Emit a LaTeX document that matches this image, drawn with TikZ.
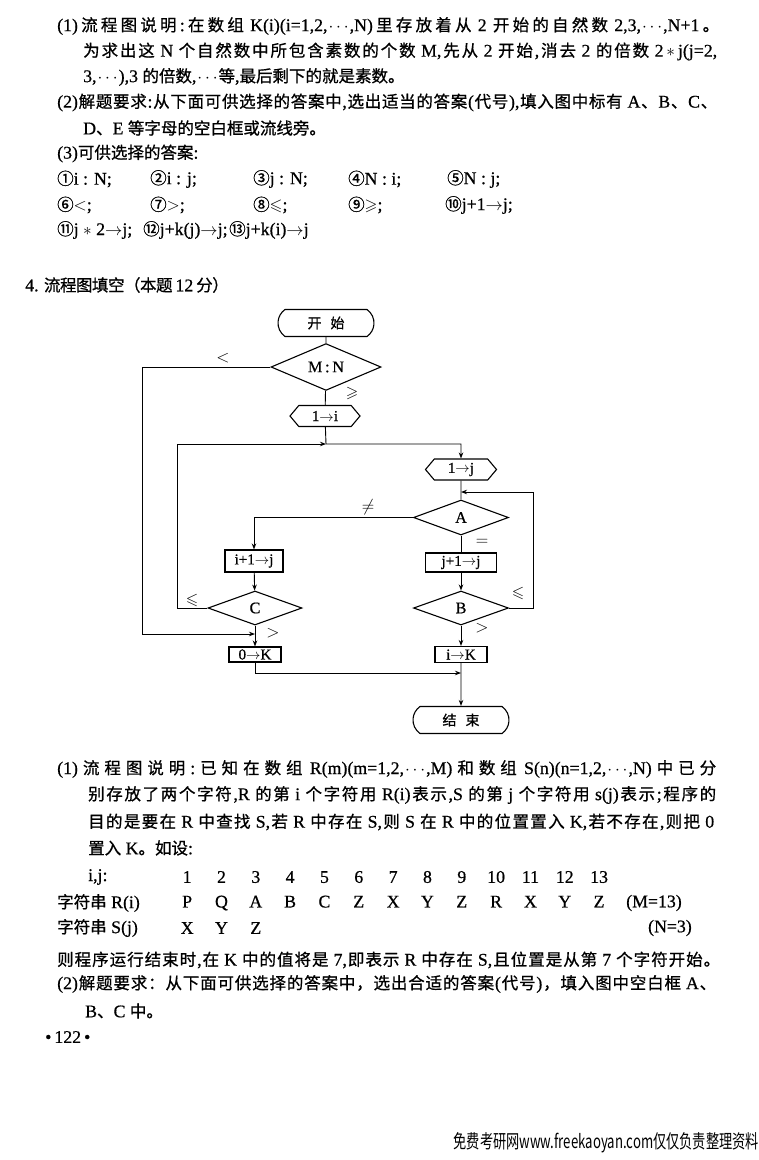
\documentclass[tikz,border=0pt]{standalone}
\usepackage{fontspec}
\usepackage{amssymb}
\usepackage{graphicx}
\setmainfont{Liberation Serif}[FakeBold=0.6,Scale=1.08]
\newfontfamily\cjk{Noto Sans CJK SC}[FakeBold=0.8]
\newfontfamily\cjkplain{Noto Sans CJK SC}
\usetikzlibrary{shapes.geometric,shapes.misc,shapes.symbols,arrows.meta,positioning}

\newXeTeXintercharclass\cjkclass
\newcount\cjkcount
\def\setcjkrange#1#2{\cjkcount=#1\relax
  \loop\XeTeXcharclass\cjkcount=\cjkclass\relax
  \advance\cjkcount by 1\relax\ifnum\cjkcount<#2\repeat}
\setcjkrange{"4E00}{"A000}
\setcjkrange{"3000}{"3040}
\setcjkrange{"FF00}{"FFF0}
\setcjkrange{"2460}{"2500}
\XeTeXinterchartokenstate=1
\XeTeXinterchartoks 0 \cjkclass = {\hskip0pt plus 4pt minus 0.5pt\cjk}
\XeTeXinterchartoks 4095 \cjkclass = {\cjk}
\XeTeXinterchartoks \cjkclass 0 = {\hskip0pt plus 4pt minus 0.5pt\normalfont}
\XeTeXinterchartoks \cjkclass 4095 = {\normalfont}
\XeTeXinterchartoks \cjkclass \cjkclass = {\hskip0pt plus 4pt minus 0.5pt}

\newcommand{\cell}[1]{\makebox[34.33pt]{#1}}
\newcommand{\dd}{\kern1pt$\cdots$\kern1pt}

\tikzset{
  txt/.style={anchor=west, inner sep=0pt, font=\fontsize{16.5}{19}\selectfont},
  terminal/.style={rounded rectangle, rounded rectangle arc length=110, draw, line width=1.1pt,
    minimum width=98pt, minimum height=27pt, inner sep=1pt, font=\fontsize{14}{16}\selectfont},
  decision/.style={diamond, draw, line width=1.1pt, inner sep=0pt, font=\fontsize{15}{17}\selectfont},
  prep/.style={signal, signal to=west and east, signal pointer angle=100, draw, line width=1.1pt,
    minimum width=71pt, minimum height=21pt, inner sep=1pt, font=\fontsize{14}{16}\selectfont},
  process/.style={rectangle, draw, line width=1.1pt, inner sep=1pt, font=\fontsize{14}{16}\selectfont},
  flow/.style={line width=0.9pt, -{Stealth[length=6pt,width=4.5pt]}},
  flowline/.style={line width=0.9pt},
  lbl/.style={inner sep=0pt, font=\fontsize{16}{18}\selectfont}
}

\begin{document}
\begin{tikzpicture}[x=1pt, y=-1pt]
\useasboundingbox (0,0) rectangle (759,1160);
\fill[white] (0,0) rectangle (759,1160);

\node[txt] (l1) at (57,26) {\hbox to 662pt{(1)流程图说明:在数组 K(i)(i=1,2,\dd,N)里存放着从 2 开始的自然数 2,3,\dd,N+1。}};
\node[txt] (l2) at (83,51.5) {\hbox to 634pt{为求出这 N 个自然数中所包含素数的个数 M,先从 2 开始,消去 2 的倍数 2$\,\ast\,$j(j=2,}};
\node[txt] (l3) at (83,77) {3,\dd),3 的倍数,\dd 等,最后剩下的就是素数。};
\node[txt] (l4) at (57,102.5) {\hbox to 660pt{(2)解题要求:从下面可供选择的答案中,选出适当的答案(代号),填入图中标有 A、B、C、}};
\node[txt] (l5) at (83,128) {D、E 等字母的空白框或流线旁。};
\node[txt] (l6) at (57,153.5) {(3)可供选择的答案:};
\node[txt] (o1) at (57,179) {①i : N;};
\node[txt] (o2) at (150,179) {②i : j;};
\node[txt] (o3) at (253,179) {③j : N;};
\node[txt] (o4) at (348,179) {④N : i;};
\node[txt] (o5) at (447,179) {⑤N : j;};
\node[txt] (o6) at (57,205) {⑥$<$;};
\node[txt] (o7) at (150,205) {⑦$>$;};
\node[txt] (o8) at (253,205) {⑧$\leqslant$;};
\node[txt] (o9) at (348,205) {⑨$\geqslant$;};
\node[txt] (o10) at (445,205) {⑩j+1$\to$j;};
\node[txt] (o11) at (57,230) {⑪j $\ast$ 2$\to$j;};
\node[txt] (o12) at (143,230) {⑫j+k(j)$\to$j;};
\node[txt] (o13) at (229,230) {⑬j+k(i)$\to$j};

\node[txt] (title) at (25,285) {\hbox to 198pt{4. 流程图填空（本题 12 分）}};

\node[terminal] (start) at (326,323) {开\hspace{9pt}始};
\node[decision, minimum width=110pt, minimum height=34pt] (mn) at (326,367) {M\,:\,N};
\node[prep, minimum width=70pt] (onei) at (325,416) {1$\to$i};
\node[prep] (onej) at (461,469.5) {1$\to$j};
\node[decision, minimum width=95pt, minimum height=35pt] (A) at (461,517.5) {A};
\node[process, minimum width=58pt, minimum height=22pt] (ip) at (254,561) {i+1$\to$j};
\node[process, minimum width=71pt, minimum height=19pt] (jp) at (461,562.5) {j+1$\to$j};
\node[decision, minimum width=94pt, minimum height=34pt] (C) at (255,608) {C};
\node[decision, minimum width=95pt, minimum height=34pt] (B) at (461,608) {B};
\node[process, minimum width=52pt, minimum height=15pt] (zeroK) at (255,654.5) {0$\to$K};
\node[process, minimum width=52pt, minimum height=16pt] (iK) at (461,654.5) {i$\to$K};
\node[terminal] (stop) at (461,720) {结\hspace{9pt}束};

\coordinate (jn) at (326,444);
\coordinate (ljn) at (177,444);
\coordinate (rc) at (533,492);
\coordinate (rjn) at (461,492);
\coordinate (lo) at (142,634);
\coordinate (lk) at (255,634);
\coordinate (ek) at (461,673);

\draw[flowline] (start) -- (mn);
\draw[flowline] (mn) -- (onei);
\draw[flow] (onei) -- (jn) -| (onej);
\draw[flowline] (onej) -- (A);
\draw[flow] (A.west) -| (ip);
\draw[flowline] (A) -- (jp);
\draw[flow] (jp) -- (B);
\draw[flow] (B.east) -| (rc) -- (rjn);
\draw[flow] (B) -- (iK);
\draw[flow] (ip) -- (C);
\draw[flow] (C.west) -| (ljn) -- (jn);
\draw[flow] (C) -- (zeroK);
\draw[flow] (mn.west) -| (lo) -- (lk);
\draw[flow] (zeroK) |- (ek);
\draw[flow] (iK) -- (stop);

\node[lbl] (ltm) at (223,358) {$<$};
\node[lbl] (geq) at (352,393) {$\geqslant$};
\node[lbl] (neq) at (368,507) {$\neq$};
\node[lbl] (eq) at (482,542) {$=$};
\node[lbl] (leqc) at (192,600) {$\leqslant$};
\node[lbl] (leqb) at (518,593) {$\leqslant$};
\node[lbl] (gtc) at (273,633) {$>$};
\node[lbl] (gtb) at (482,628) {$>$};

\node[txt] (m1) at (57,769) {\hbox to 659pt{(1)流程图说明:已知在数组 R(m)(m=1,2,\dd,M)和数组 S(n)(n=1,2,\dd,N)中已分}};
\node[txt] (m2) at (88,795) {\hbox to 628pt{别存放了两个字符,R 的第 i 个字符用 R(i)表示,S 的第 j 个字符用 s(j)表示;程序的}};
\node[txt] (m3) at (88,822) {\hbox to 626pt{目的是要在 R 中查找 S,若 R 中存在 S,则 S 在 R 中的位置置入 K,若不存在,则把 0}};
\node[txt] (m4) at (88,848) {置入 K。如设:};
\node[txt] (ijl) at (88,877) {i,j:};
\node[txt] (ijr) at (169.8,877) {\cell{1}\cell{2}\cell{3}\cell{4}\cell{5}\cell{6}\cell{7}\cell{8}\cell{9}\cell{10}\cell{11}\cell{12}\cell{13}};
\node[txt] (rl) at (57,903) {字符串 R(i)};
\node[txt] (rr) at (169.8,903) {\cell{P}\cell{Q}\cell{A}\cell{B}\cell{C}\cell{Z}\cell{X}\cell{Y}\cell{Z}\cell{R}\cell{X}\cell{Y}\cell{Z}};
\node[txt] (rm) at (626,903) {(M=13)};
\node[txt] (sl) at (57,928) {字符串 S(j)};
\node[txt] (sr) at (169.8,928) {\cell{X}\cell{Y}\cell{Z}};
\node[txt, anchor=east] (sn) at (692,928) {(N=3)};
\node[txt] (m5) at (57,960) {\hbox to 663pt{则程序运行结束时,在 K 中的值将是 7,即表示 R 中存在 S,且位置是从第 7 个字符开始。}};
\node[txt] (m6) at (57,984) {\hbox to 659pt{(2)解题要求：从下面可供选择的答案中，选出合适的答案(代号)，填入图中空白框 A、}};
\node[txt] (m7) at (85,1011) {B、C 中。};
\node[txt] (page) at (45,1037) {•\,122\,•};

\node[inner sep=0pt, anchor=east] (wm) at (759,1143) {\resizebox{305pt}{16pt}{\XeTeXinterchartokenstate=0 \cjkplain 免费考研网www.freekaoyan.com仅仅负责整理资料}};
\end{tikzpicture}
\end{document}
